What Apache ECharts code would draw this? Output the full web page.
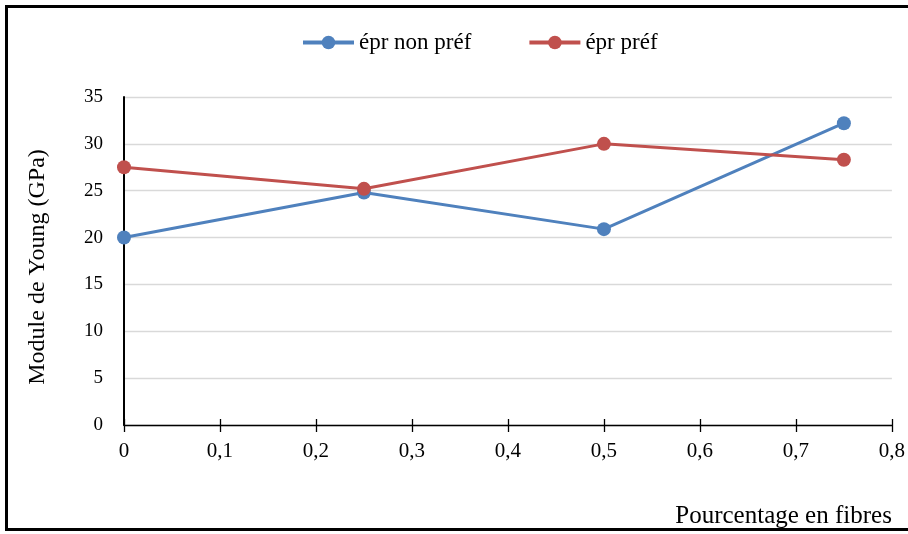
<!DOCTYPE html>
<html>
<head>
<meta charset="utf-8">
<script src="https://cdn.jsdelivr.net/npm/echarts@6/dist/echarts.min.js"></script>
<style>
  html, body { margin: 0; padding: 0; background: #fff; }
  #frame { position: absolute; left: 5px; top: 5px; width: 910px; height: 526px; border: 3px solid #000; box-sizing: border-box; }
  #chart { position: absolute; left: 0; top: 0; width: 908px; height: 534px; }
</style>
</head>
<body>
<div id="frame"></div>
<div id="chart"></div>
<script>
// Fibre content (fraction) and Young's modulus (GPa)
const fibres = [0, 0.25, 0.5, 0.75];
const nonPref = [20.0, 24.8, 20.9, 32.2];
const pref = [27.5, 25.2, 30.0, 28.3];
const seriesNames = ['épr non préf', 'épr préf'];

const fmtComma = v => String(Math.round(v * 10) / 10).replace('.', ',');
const serif = '"Liberation Serif", "Times New Roman", serif';

const chart = echarts.init(document.getElementById('chart'));
const pairs = ys => fibres.map((x, i) => [x, ys[i]]);

chart.setOption({
  animation: false,
  textStyle: { fontFamily: serif },
  legend: {
    top: 26,
    left: 296,
    itemWidth: 51,
    itemHeight: 17,
    itemGap: 56,
    lineStyle: { width: 4 },
    textStyle: { fontFamily: serif, fontSize: 23, color: '#000' },
    data: seriesNames
  },
  grid: { left: 124, right: 16, top: 97, bottom: 109 },
  xAxis: [{
    type: 'value', min: 0, max: 0.8, interval: 0.1,
    name: 'Pourcentage en fibres',
    nameLocation: 'end',
    nameGap: 0,
    nameTextStyle: { fontFamily: serif, fontSize: 25, color: '#000', align: 'right', verticalAlign: 'top', padding: [79, 0, 0, 0] },
    axisLine: { lineStyle: { color: '#000', width: 1.3 } },
    axisTick: { show: true, length: 7, lineStyle: { color: '#000', width: 1.3 } },
    axisLabel: { color: '#000', fontSize: 21, margin: 16, formatter: fmtComma },
    splitLine: { show: false }
  }, {
    type: 'value', min: 0, max: 0.8, interval: 0.1, position: 'bottom',
    axisLine: { show: false },
    axisTick: { show: true, inside: true, length: 6, lineStyle: { color: '#000', width: 1.3 } },
    axisLabel: { show: false },
    splitLine: { show: false }
  }],
  yAxis: {
    type: 'value', min: 0, max: 35, interval: 5,
    name: 'Module de Young (GPa)',
    nameLocation: 'middle',
    nameGap: 74,
    nameTextStyle: { fontFamily: serif, fontSize: 24, color: '#000', padding: [0, 12, 0, 0] },
    axisLine: { show: true, lineStyle: { color: '#000', width: 2 } },
    axisTick: { show: false },
    axisLabel: { color: '#000', fontSize: 19, margin: 21 },
    splitLine: { lineStyle: { color: '#d9d9d9', width: 1.3 } }
  },
  series: [{
    name: seriesNames[0], type: 'line', data: pairs(nonPref),
    symbol: 'circle', symbolSize: 14,
    lineStyle: { color: '#4F81BD', width: 3 },
    itemStyle: { color: '#4F81BD' }
  }, {
    name: seriesNames[1], type: 'line', data: pairs(pref),
    symbol: 'circle', symbolSize: 14,
    lineStyle: { color: '#C0504D', width: 3 },
    itemStyle: { color: '#C0504D' }
  }]
});
</script>
</body>
</html>
